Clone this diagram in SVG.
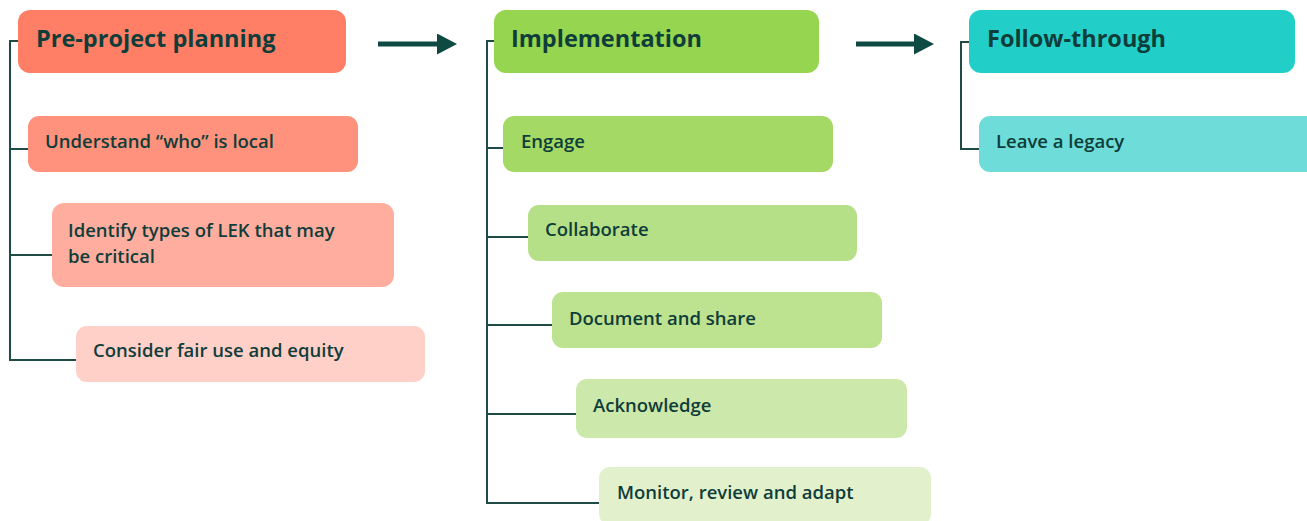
<svg xmlns="http://www.w3.org/2000/svg" width="1307" height="521" viewBox="0 0 1307 521">
<style>
.t{font-family:"Open Sans","Noto Sans","Liberation Sans",sans-serif;fill:#0f3d3a;}
.h{font-size:23.5px;font-weight:700;}
.s{font-size:18.5px;font-weight:600;}
.c{fill:none;stroke:#1f4a45;stroke-width:2;}
.a{fill:none;stroke:#0e4a42;stroke-width:5;}
</style>
<defs>
<marker id="ah" markerWidth="4" markerHeight="4.2" refX="0" refY="2.1" orient="auto" markerUnits="strokeWidth"><path d="M0,0 L4,2.1 L0,4.2 Z" fill="#0e4a42"/></marker>
</defs>
<g id="connectors">
<path class="c" d="M18,41 H10 V360 H76 M10,149 H28 M10,255 H52"/>
<path class="c" d="M494,41 H487 V503 H599 M487,148 H503 M487,237 H528 M487,325 H552 M487,414 H576"/>
<path class="c" d="M969,42 H961 V149 H979"/>
<path class="a" d="M378,44 H437" marker-end="url(#ah)"/>
<path class="a" d="M856,44 H914" marker-end="url(#ah)"/>
</g>
<g id="pre-project-planning"><rect x="18" y="10" width="328" height="63" rx="12" fill="#ff7f66"/><text class="t h" x="36" y="47">Pre-project planning</text></g>
<g id="understand-who"><rect x="28" y="116" width="330" height="56" rx="11" fill="#ff927c"/><text class="t s" x="45" y="148">Understand “who” is local</text></g>
<g id="identify-lek"><rect x="52" y="203" width="342" height="84" rx="12" fill="#ffad9f"/><text class="t s" x="68" y="237">Identify types of LEK that may</text><text class="t s" x="68" y="263">be critical</text></g>
<g id="fair-use"><rect x="76" y="326" width="349" height="56" rx="11" fill="#ffd0c8"/><text class="t s" x="93" y="357">Consider fair use and equity</text></g>
<g id="implementation"><rect x="494" y="10" width="325" height="63" rx="12" fill="#96d54f"/><text class="t h" x="511" y="47">Implementation</text></g>
<g id="engage"><rect x="503" y="116" width="330" height="56" rx="11" fill="#a5d966"/><text class="t s" x="521" y="148">Engage</text></g>
<g id="collaborate"><rect x="528" y="205" width="329" height="56" rx="11" fill="#b6e087"/><text class="t s" x="545" y="236">Collaborate</text></g>
<g id="document"><rect x="552" y="292" width="330" height="56" rx="11" fill="#bde290"/><text class="t s" x="569" y="325">Document and share</text></g>
<g id="acknowledge"><rect x="576" y="379" width="331" height="59" rx="11" fill="#cde8ab"/><text class="t s" x="593" y="412">Acknowledge</text></g>
<g id="monitor"><rect x="599" y="467" width="332" height="58" rx="11" fill="#e2f1cc"/><text class="t s" x="617" y="499">Monitor, review and adapt</text></g>
<g id="follow-through"><rect x="969" y="10" width="326" height="63" rx="12" fill="#22cfc8"/><text class="t h" x="987" y="47">Follow-through</text></g>
<g id="leave-legacy"><rect x="979" y="116" width="340" height="56" rx="11" fill="#6edcd8"/><text class="t s" x="996" y="148">Leave a legacy</text></g>
</svg>
